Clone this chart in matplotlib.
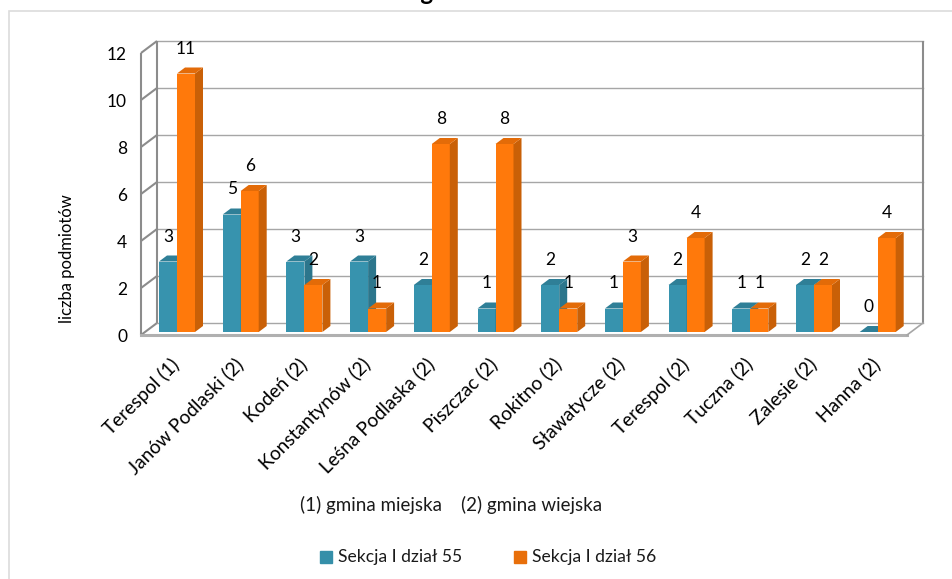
import matplotlib
matplotlib.use("Agg")
import matplotlib.pyplot as plt
import numpy as np
from matplotlib.patches import Polygon, Rectangle

plt.rcParams['font.family'] = ['Lato', 'DejaVu Sans']

categories = ['Terespol (1)', 'Janów Podlaski (2)', 'Kodeń (2)', 'Konstantynów (2)',
              'Leśna Podlaska (2)', 'Piszczac (2)', 'Rokitno (2)', 'Sławatycze (2)',
              'Terespol (2)', 'Tuczna (2)', 'Zalesie (2)', 'Hanna (2)']
sekcja_55 = [3, 5, 3, 3, 2, 1, 2, 1, 2, 1, 2, 0]
sekcja_56 = [11, 6, 2, 1, 8, 8, 1, 3, 4, 1, 2, 4]
y_ticks = [0, 2, 4, 6, 8, 10, 12]

W, H = 952, 579
fig = plt.figure(figsize=(W / 100, H / 100), dpi=100, facecolor='white')

# Pixel geometry of the front plane of the box
PX_L, PX_R, PX_0, PX_12 = 141, 907, 335, 53
ax = fig.add_axes([PX_L / W, 1 - PX_0 / H, (PX_R - PX_L) / W, (PX_0 - PX_12) / H])
ax.set_ylim(0, 12)
GROUP = 63.7
ax.set_xlim((PX_L - 177) / GROUP, (PX_R - 177) / GROUP)
ax.axis('off')

ux = 1 / GROUP
uy = 12 / (PX_0 - PX_12)
WALL_DX, WALL_DY = 16 * ux, 12 * uy
BAR_DX, BAR_DY = 8 * ux, 6 * uy
BASE = 3 * uy
BAR_W = 18 * ux
x0, x1 = ax.get_xlim()

wall = dict(color='#8c8c8c', lw=1.5, clip_on=False, solid_capstyle='butt', zorder=1)
grid = dict(color='#a6a6a6', lw=1.0, clip_on=False, zorder=1)
for t in y_ticks:
    ax.plot([x0, x0 + WALL_DX], [t, t + WALL_DY], **wall)
    ax.plot([x0 + WALL_DX, x1 + WALL_DX], [t + WALL_DY] * 2, **grid)
    ax.text(x0 - 14 * ux, t - 2 * uy, str(t), ha='right', va='center', fontsize=12.5, color='black')
ax.plot([x0, x0], [0, 12], **wall)
ax.plot([x0 + WALL_DX] * 2, [WALL_DY, 12 + WALL_DY], **wall)
ax.plot([x1 + WALL_DX] * 2, [WALL_DY, 12 + WALL_DY], **wall)
ax.plot([x0, x1], [0, 0], color='#b0b0b0', lw=2.2, clip_on=False, zorder=1)
ax.plot([x1, x1 + WALL_DX], [0, WALL_DY], color='#a6a6a6', lw=1.2, clip_on=False, zorder=1)


def bar3d(x, v, front, side, top, z):
    ax.bar(x, v, BAR_W, bottom=BASE, align='edge', color=front, zorder=z, clip_on=False)
    ax.add_patch(Polygon([(x + BAR_W, BASE), (x + BAR_W + BAR_DX, BASE + BAR_DY),
                          (x + BAR_W + BAR_DX, BASE + v + BAR_DY), (x + BAR_W, BASE + v)],
                         closed=True, color=side, lw=0, zorder=z, clip_on=False))
    ax.add_patch(Polygon([(x, BASE + v), (x + BAR_DX, BASE + v + BAR_DY),
                          (x + BAR_W + BAR_DX, BASE + v + BAR_DY), (x + BAR_W, BASE + v)],
                         closed=True, color=top, lw=0, zorder=z, clip_on=False))


LABEL_UP = 11 * uy + BAR_DY
xs = np.arange(len(categories))
for i in xs:
    bar3d(i - BAR_W, sekcja_55[i], '#3793AE', '#2C768C', '#2F7F97', 3)
    bar3d(i, sekcja_56[i], '#FF790B', '#C96007', '#E36B08', 4)
    ax.text(i - BAR_W / 2, sekcja_55[i] + BASE + LABEL_UP, str(sekcja_55[i]),
            ha='center', va='bottom', fontsize=12.5, color='black', zorder=6, clip_on=False)
    ax.text(i + BAR_W / 2, sekcja_56[i] + BASE + LABEL_UP, str(sekcja_56[i]),
            ha='center', va='bottom', fontsize=12.5, color='black', zorder=6, clip_on=False)
    ax.annotate(categories[i], xy=(i - 7 * ux, 0), xytext=(0, -20), textcoords='offset pixels',
                rotation=45, ha='right', va='top', rotation_mode='anchor',
                fontsize=13.8, color='black', annotation_clip=False)

T = fig.transFigure
fig.text(67 / W, 1 - 259 / H, 'liczba podmiotów', rotation=90, ha='center', va='center', fontsize=12)
fig.text(451.5 / W, 1 - 505 / H, '(1) gmina miejska    (2) gmina wiejska', ha='center', va='center',
         fontsize=13.5, color='#1a1a1a')
fig.text(358 / W, 1 - 0.3 / H, 'Noclegi i hotelarstwo', ha='left', va='baseline', fontsize=17.3,
         fontweight='bold', color='black')

# Legend
fig.patches.append(Rectangle((320 / W, 1 - 563 / H), 12 / W, 12 / H, transform=T, color='#358FA9'))
fig.patches.append(Rectangle((514 / W, 1 - 563 / H), 12 / W, 12 / H, transform=T, color='#E86F0A'))
fig.text(338 / W, 1 - 557 / H, 'Sekcja I dział 55', ha='left', va='center', fontsize=12.6, color='#1a1a1a')
fig.text(532 / W, 1 - 557 / H, 'Sekcja I dział 56', ha='left', va='center', fontsize=12.6, color='#1a1a1a')

# Chart frame (its right and bottom edges lie outside the picture)
fig.patches.append(Rectangle((8.5 / W, -5 / H), (W + 5 - 8.5) / W, (H + 5 - 10.5) / H, transform=T,
                             fill=False, edgecolor='#dcdcdc', lw=1.2))

fig.savefig('out.png', dpi=100)
